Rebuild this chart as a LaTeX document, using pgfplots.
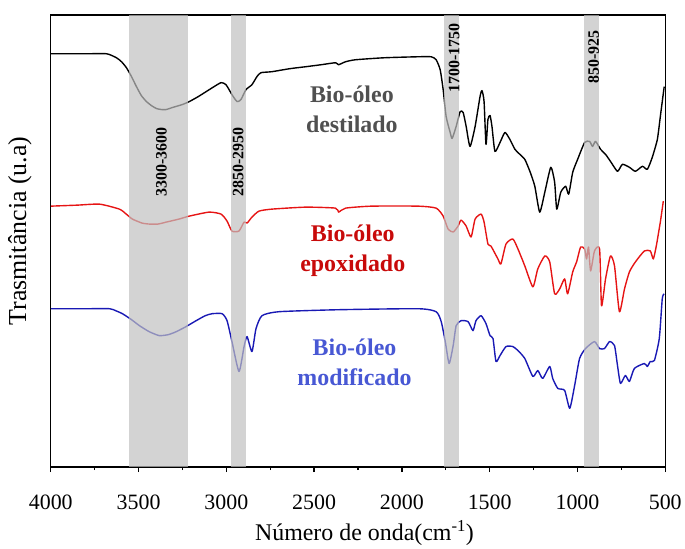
\documentclass[border=0pt]{standalone}
\usepackage{fontspec}
\setmainfont{Liberation Serif}
\usepackage{pgfplots}
\pgfplotsset{compat=1.18}

\definecolor{bandgray}{RGB}{192,192,192}
\definecolor{curvered}{RGB}{230,20,20}
\definecolor{curveblue}{RGB}{25,25,180}
\definecolor{labelgray}{RGB}{80,80,80}
\definecolor{labelred}{RGB}{200,10,10}
\definecolor{labelblue}{RGB}{72,88,212}

\begin{document}
\begin{tikzpicture}
% page frame
\path (-51pt,-77pt) rectangle (634pt,469pt);
\begin{axis}[
  scale only axis,
  width=617pt, height=454pt,
  x dir=reverse,
  xmin=500, xmax=4000, ymin=-1, ymax=453,
  xtick={500,1000,...,4000},
  minor x tick num=1,
  ytick=\empty,
  xtick pos=bottom,
  tick align=outside,
  major tick length=5pt, minor tick length=3pt,
  axis line style={line width=1.3pt},
  every tick/.style={line width=1.3pt, black},
  /pgf/number format/assume math mode=true,
  /pgf/number format/1000 sep={},
  xticklabel style={font=\fontsize{22}{22}\selectfont, yshift=-19pt},
  spectrum/.style={line width=1.4pt, line join=round, smooth, tension=0.35},
  clip=false,
]
% Bio-oleo destilado
\addplot[black, spectrum] coordinates {
(4000,414) (3800,414) (3682,414) (3626,410) (3597,406) (3569,400) (3540,391)
(3512,381) (3484,372) (3455,366) (3427,362) (3398,359) (3370,358) (3342,358)
(3308,360) (3251,363) (3211,366) (3160,371) (3115,376) (3070,381) (3030,385)
(3002,383) (2968,373) (2939,366) (2917,368) (2888,378) (2854,383) (2826,391)
(2803,395) (2741,396) (2640,399) (2548,401) (2460,403) (2378,405) (2361,403)
(2321,406) (2264,408) (2100,410) (1907,411) (1833,411) (1805,408) (1782,398)
(1765,378) (1748,351) (1725,335) (1714,329) (1691,341) (1668,356) (1651,355)
(1634,341) (1612,321) (1583,341) (1555,371) (1544,377) (1532,366) (1521,323)
(1510,348) (1498,352) (1487,341) (1470,316) (1441,325) (1413,335) (1385,328)
(1356,318) (1328,313) (1300,308) (1271,296) (1243,281) (1215,255) (1186,275)
(1152,300) (1130,285) (1118,258) (1095,275) (1067,281) (1050,273) (1027,295)
(999,308) (959,325) (931,326) (914,321) (897,326) (868,318) (840,313)
(812,306) (772,296) (744,303) (704,300) (670,296) (630,301) (602,298)
(574,310) (545,328) (528,351) (506,381)
};
% Bio-oleo epoxidado
\addplot[curvered, spectrum] coordinates {
(4000,261) (3850,262) (3722,263) (3609,258) (3570,253) (3535,248) (3480,244)
(3438,243) (3390,243) (3342,245) (3270,248) (3211,251) (3098,255) (3030,253)
(2996,246) (2968,236) (2928,236) (2899,245) (2882,244) (2854,250) (2814,256)
(2741,258) (2548,260) (2378,259) (2361,255) (2321,259) (2173,261) (1907,261)
(1805,259) (1765,251) (1737,238) (1708,235) (1680,241) (1663,247) (1634,241)
(1606,230) (1583,248) (1549,253) (1532,245) (1510,223) (1493,221) (1453,208)
(1436,203) (1407,223) (1368,228) (1339,218) (1300,201) (1254,180) (1226,198)
(1186,211) (1158,205) (1130,173) (1101,178) (1073,188) (1056,173) (1027,195)
(1005,205) (982,220) (959,218) (948,208) (937,220) (925,196) (903,216)
(874,218) (863,161) (840,188) (812,211) (789,201) (761,155) (732,178)
(704,195) (670,205) (619,216) (585,216) (568,208) (551,221) (528,245)
(511,266)
};
% Bio-oleo modificado
\addplot[curveblue, spectrum] coordinates {
(4000,158) (3800,158) (3665,158) (3630,156) (3592,153) (3540,147) (3495,141)
(3440,135) (3382,131) (3330,132) (3285,135) (3230,140) (3172,146) (3120,151)
(3081,153) (3024,153) (2996,146) (2968,125) (2928,95) (2899,120) (2882,130)
(2854,115) (2831,138) (2797,151) (2701,155) (2361,157) (1907,158) (1805,155)
(1776,145) (1753,125) (1731,103) (1708,121) (1691,141) (1663,146) (1623,145)
(1595,136) (1578,146) (1549,151) (1521,143) (1498,131) (1481,128) (1464,105)
(1441,111) (1407,120) (1368,120) (1339,116) (1300,108) (1254,90) (1226,96)
(1198,88) (1158,100) (1141,88) (1112,78) (1073,76) (1044,58) (1016,81)
(988,108) (954,118) (903,125) (874,118) (846,118) (817,125) (789,121)
(772,101) (755,83) (727,91) (704,85) (676,98) (619,103) (602,100)
(585,105) (562,106) (534,128) (517,168) (506,173)
};
% absorption bands
\addplot[draw=none, fill=bandgray, fill opacity=0.7] coordinates
  {(3552,-1) (3221,-1) (3221,453) (3552,453)} -- cycle;
\addplot[draw=none, fill=bandgray, fill opacity=0.7] coordinates
  {(2975,-1) (2890,-1) (2890,453) (2975,453)} -- cycle;
\addplot[draw=none, fill=bandgray, fill opacity=0.7] coordinates
  {(1759,-1) (1674,-1) (1674,453) (1759,453)} -- cycle;
\addplot[draw=none, fill=bandgray, fill opacity=0.7] coordinates
  {(961,-1) (876,-1) (876,453) (961,453)} -- cycle;

\begin{scope}[every node/.style={rotate=90, font=\fontsize{16}{16}\selectfont\bfseries, inner sep=0pt}]
\node at (axis cs:3370,305) {3300-3600};
\node at (axis cs:2933,305) {2850-2950};
\node at (axis cs:1702,410) {1700-1750};
\node at (axis cs:908,411) {850-925};
\end{scope}

\begin{scope}[every node/.style={anchor=base, font=\fontsize{24}{24}\selectfont\bfseries, inner sep=0pt}]
\node[labelgray] at (axis cs:2285,365) {Bio-óleo};
\node[labelgray] at (axis cs:2285,335) {destilado};
\node[labelred] at (axis cs:2280,225) {Bio-óleo};
\node[labelred] at (axis cs:2280,195) {epoxidado};
\node[labelblue] at (axis cs:2270,111) {Bio-óleo};
\node[labelblue] at (axis cs:2270,81) {modificado};
\end{scope}
\end{axis}
\node[font=\fontsize{24}{24}\selectfont] at (315pt,-66pt) {Número de onda(cm\textsuperscript{-1})};
\node[rotate=90, font=\fontsize{26}{26}\selectfont] at (-31pt,237pt) {Trasmitância (u.a)};
\end{tikzpicture}
\end{document}
